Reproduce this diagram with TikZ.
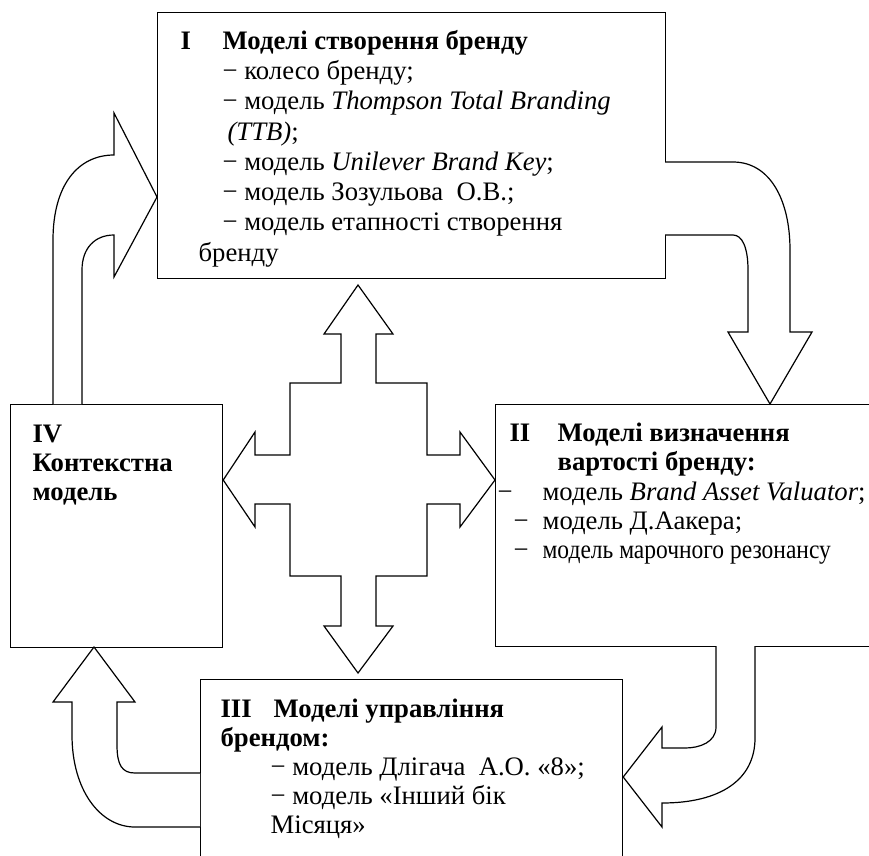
\documentclass[tikz,border=0pt]{standalone}
\usepackage{fontspec}
\setmainfont{Liberation Serif}
\usepackage{tikz}

\newcommand{\firstline}{\rule{0pt}{21pt}}

\begin{document}
\begin{tikzpicture}[x=1pt,y=-1pt,line width=1.2pt,line join=miter,
        box/.style={draw,anchor=north west,inner sep=0pt},
        txt/.style={anchor=north west,inner sep=0pt,align=left},
        blockarrow/.style={draw,fill=white}]
    \useasboundingbox (0,0) rectangle (869,855);
    % model boxes
    \node[box,minimum width=508pt,minimum height=266pt] (b1) at (157,12) {};
    \node[box,minimum width=380pt,minimum height=242pt] (b2) at (495,404) {};
    \node[box,minimum width=422pt,minimum height=200pt] (b3) at (200,679) {};
    \node[box,minimum width=212pt,minimum height=243pt] (b4) at (10,404) {};
    % texts (first baseline 21pt below the anchor)
    \node[txt,font=\fontsize{26.7}{30.3}\selectfont] (t1) at (180,27.5) {\firstline\makebox[42pt][l]{\textbf{I}}\textbf{Моделі створення бренду}\\
        \hspace*{42pt}− колесо бренду;\\
        \hspace*{42pt}− модель \textit{Thompson Total Branding}\\
        \hspace*{47pt}\textit{(TTB)};\\
        \hspace*{42pt}− модель \textit{Unilever Brand Key};\\
        \hspace*{42pt}− модель Зозульова~ О.В.;\\
        \hspace*{42pt}− модель етапності створення\\
        \hspace*{18pt}бренду};
    \node[txt,font=\fontsize{26.7}{29.3}\selectfont] (t2) at (497,420) {\firstline\hspace*{12pt}\makebox[48pt][l]{\textbf{II}}\textbf{Моделі визначення}\\
        \hspace*{60pt}\textbf{вартості бренду:}\\
        \makebox[45pt][l]{−}модель \textit{Brand Asset Valuator};\\
        \hspace*{16pt}\makebox[29pt][l]{−}модель Д.Аакера;\\
        \hspace*{16pt}\makebox[29pt][l]{−}\scalebox{0.88}[1]{модель марочного резонансу}};
    \node[txt,font=\fontsize{26.7}{29}\selectfont] (t3) at (220,695.5) {\firstline\makebox[53pt][l]{\textbf{III}}\textbf{Моделі управління}\\
        \textbf{брендом:}\\
        \hspace*{50pt}− модель Длігача~ А.О. «8»;\\
        \hspace*{50pt}− модель «Інший бік\\
        \hspace*{50pt}Місяця»};
    \node[txt,font=\fontsize{26.7}{29}\selectfont] (t4) at (32,421) {\firstline\textbf{IV}\\
        \textbf{Контекстна}\\
        \textbf{модель}};
    % four-way arrow in the middle
    \draw[blockarrow] (290,383) -- (341,383) -- (341,334) -- (324,334) -- (358,285) -- (393,334) -- (376,334) -- (376,383)
        -- (427,383) -- (427,455) -- (460,455) -- (460,432) -- (b2.west |- 0,480) -- (460,527) -- (460,504) -- (427,504)
        -- (427,576) -- (376,576) -- (376,626) -- (393,626) -- (358,673) -- (324,626) -- (341,626) -- (341,576)
        -- (290,576) -- (290,504) -- (255,504) -- (255,527) -- (b4.east |- 0,480) -- (255,432) -- (255,455) -- (290,455) -- cycle;
    % curved arrows round the boxes
    \draw[blockarrow] (53,404) -- (53,240) .. controls (53,185) and (78,155) .. (114,155) -- (114,113) -- (b1.west |- 0,197)
        -- (114,277) -- (114,235) .. controls (95,235) and (82,248) .. (82,270) -- (82,404);
    \draw[blockarrow] (665,162) -- (733,162) .. controls (770,162) and (790,200) .. (790,250) -- (790,332) -- (812,332)
        -- (770,404) -- (728,332) -- (748,332) -- (748,270) .. controls (748,247) and (742,235) .. (733,235) -- (665,235);
    \draw[blockarrow] (716,646) -- (716,727) .. controls (716,742) and (700,748) .. (685,748) -- (662,748) -- (662,727)
        -- (b3.east |- 0,777) -- (662,827) -- (662,803) .. controls (720,803) and (755,780) .. (755,738) -- (755,646);
    \draw[blockarrow] (200,773) -- (135,773) .. controls (122,773) and (117,765) .. (117,745) -- (117,702) -- (135,702)
        -- (94,647) -- (53,702) -- (72,702) -- (72,735) .. controls (72,790) and (100,827) .. (135,827) -- (200,827);
\end{tikzpicture}
\end{document}
